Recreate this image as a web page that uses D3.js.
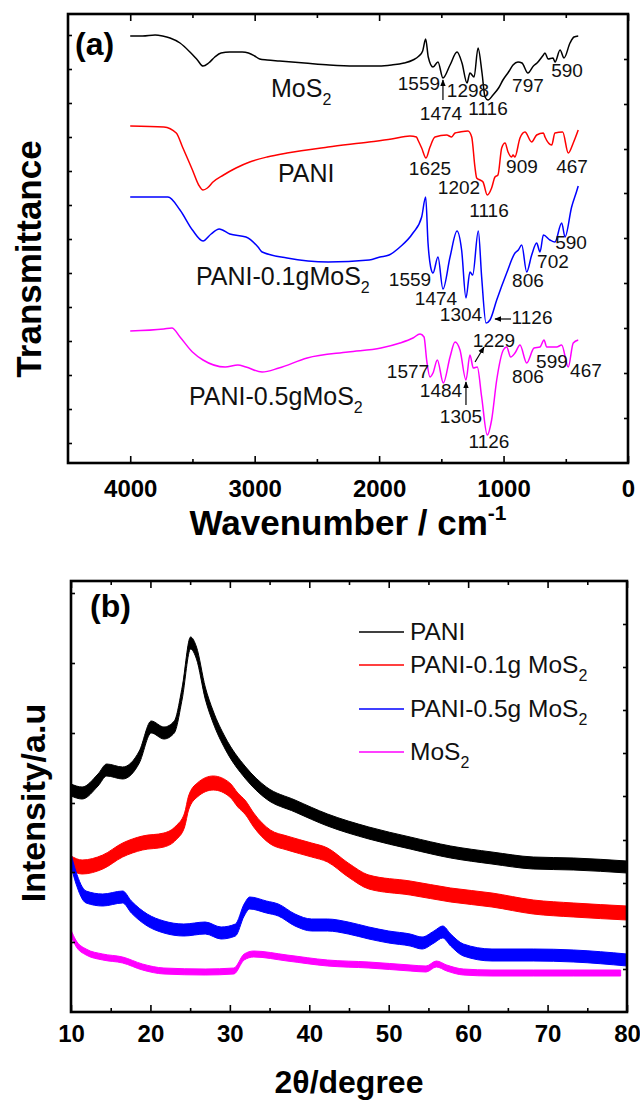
<!DOCTYPE html>
<html><head><meta charset="utf-8">
<script src="https://cdn.jsdelivr.net/npm/d3@7"></script>
<style>
body{margin:0;background:#fff}
svg{display:block}
text{font-family:"Liberation Sans",Arial,Helvetica,sans-serif}
</style>
</head><body>
<svg id="c" width="640" height="1100"></svg>
<script>
// ---------- Panel (a) FTIR data (wavenumber cm-1, transmittance a.u.) ----------
const mos2Wn = [4000,3900,3800,3740,3680,3600,3520,3460,3415,3370,3320,3270,3200,3100,3050,3000,2960,2900,2800,2600,2400,2200,2000,1900,1800,1728,1680,1650,1626,1605,1567,1527,1487,1430,1374,1334,1294,1270,1237,1205,1173,1149,1125,1085,1040,1005,960,924,884,852,804,760,731,680,667,642,603,586,546,514,466,434,400];
const mos2T  = [427,427,428,427,425,420,411,403,397,400,406,410,411,411,410,407,404,403,402,400,398,397,397,398,400,403,407,412,424,406,396,401,385,398,411,400,380,390,386,415,390,366,363,368,375,383,391,398,401,400,390,397,400,408,410,404,405,401,413,405,420,426,427];

const paniWn = [4000,3730,3630,3580,3500,3450,3415,3380,3335,3250,3150,3040,2900,2740,2410,2080,1900,1752,1700,1688,1658,1623,1591,1551,1457,1417,1390,1350,1286,1256,1230,1216,1189,1165,1131,1096,1069,1045,1015,988,964,935,924,909,868,828,774,734,680,667,613,587,525,480,440,400];
const paniT  = [337,336,330,316,293,278,273,275,281,288,295,301,306,310,316,321,324,327,326,323,315,305,316,326,328,326,330,331,332,326,296,285,283,281,268,275,286,288,315,320,311,306,308,306,325,331,321,328,330,326,318,330,331,310,320,333];

const p01Wn = [4000,3697,3600,3500,3415,3350,3285,3200,3070,2973,2940,2740,2410,2080,1993,1920,1832,1728,1658,1626,1607,1586,1567,1527,1487,1430,1374,1337,1302,1270,1248,1203,1176,1141,1109,1055,975,908,881,854,814,774,734,707,680,627,587,533,506,453,412,400];
const p01T  = [266,266,253,233,222,229,234,229,226,216,211,205,201,203,206,208,216,230,246,266,220,196,190,206,174,206,232,213,165,191,188,232,186,140,143,163,190,210,213,218,191,208,220,211,228,223,221,240,226,256,272,277];

const p05Wn = [4000,3730,3665,3600,3500,3415,3237,3135,3070,2940,2805,2578,2250,1985,1832,1728,1671,1639,1618,1591,1567,1532,1484,1430,1390,1350,1302,1270,1243,1211,1176,1131,1096,1055,1002,975,943,908,868,814,755,707,675,653,573,533,480,440,400];
const p05T  = [132,134,135,126,111,103,96,98,96,91,95,105,111,115,120,125,129,126,103,86,90,103,80,106,121,113,83,108,95,96,66,28,43,83,113,116,106,110,118,100,115,116,123,116,116,118,96,120,123];

const ftirColors = ["#000000","#ff0000","#0000ff","#ff00ff"];

// peak labels: [text, wavenumber, transmittance]
const peakLabels = [
  ["1559",1680,373],["1474",1503,343],["1298",1286,366],["1116",1125,348],["797",804,371],["590",490,386],
  ["1625",1591,288],["1202",1358,269],["1116",1117,246],["909",852,290],["467",450,290],
  ["1559",1752,177],["1474",1543,158],["1304",1342,142],["1126",771,139],["806",804,176],["702",603,195],["590",458,214],
  ["1229",1077,116],["1577",1768,85],["1484",1503,66],["1305",1342,40],["1126",1117,15],["806",804,80],["599",611,95],["467",338,86]
];
// arrows: [wn tail, T tail, wn head, T head]
const peakArrows = [[1487,363,1487,383],[940,144,1069,144],[1229,101,1157,116],[1302,58,1302,81]];
// curve names: [main, subscript, wn, T]
const curveNames = [["MoS","2",2869,366],["PANI","",2813,281],["PANI-0.1gMoS","2",3472,178],["PANI-0.5gMoS","2",3528,58]];

const ftirMajor = [4000,3000,2000,1000,0];
const ftirMinor = [3500,2500,1500,500];
const ftirLeftTicks = [20,54,88,122,156,190,224,258,292,326,360,394,428];
const ftirRightTicks = [45,90,135,180,225,270,314,359,404];

// ---------- Panel (b) XRD data (2theta, intensity a.u.) ----------
const xPani2t = [10.0,11.4,13.4,14.5,16.5,18.6,20.1,21.7,23.0,24.0,25.05,25.8,26.9,27.9,29.4,32.0,34.6,38.2,42.3,47.5,52.7,57.8,63.0,68.2,73.3,80.0];
const xPaniI  = [222,219,232,242,239,255,285,279,285,319,369,359,319,295,269,239,219,206,192,179,169,160,154,149,148,145];
const xP01_2t = [10.0,11.4,14,16.5,19,21.7,23.2,24.3,24.8,25.9,27.9,30,31,32,33,35.1,37.2,40.3,42.3,44.9,47.5,52.7,57.8,63,68.2,73.3,80];
const xP01I   = [149,145,150,162,169,172,179,192,209,222,229,222,212,204,192,175,169,162,157,142,130,124,117,112,105,102,99];
const xP05_2t = [10.0,10.6,11.9,14,16.5,17.6,19.6,21.7,24.2,26.9,28.9,30.7,31.8,32.5,34.6,36.1,38.2,40.3,42.3,44.9,47.5,50,52.7,54.2,55.7,56.8,57.8,59.4,63,68.2,73.3,80];
const xP05I   = [152,135,115,112,115,105,92,85,82,84,79,82,102,109,105,102,92,87,87,84,79,75,72,69,75,80,72,62,57,57,56,52];
const xMos2_2t = [10.0,10.6,11.9,14,16.5,19,21.7,26.9,30.5,31.8,33,37.2,42.3,47.5,52.7,54.7,56,57.3,59.4,63,68.2,73.3,79.2];
const xMos2I   = [79,69,60,55,52,45,41,40,41,55,58,54,49,47,44,43,48,44,40,39,39,39,39];
const xrdNoise = [6,7,6,3]; // half-width of the noise band, a.u.
const xrdNames = [["PANI",""],["PANI-0.1g MoS","2"],["PANI-0.5g MoS","2"],["MoS","2"]];
const xrdColors = ["#000000","#ff0000","#0000ff","#ff00ff"];
const xrdMajor = [10,20,30,40,50,60,70,80];
const xrdMinor = [15,25,35,45,55,65,75];
const xrdLeftTicks = [70,140,209,279,349,419];
const xrdRightTicks = [43,86,129,172,216,259,302,345,388];

// ---------- drawing ----------
const svg = d3.select("#c");
const FONT = '"Liberation Sans",Arial,sans-serif';
const A = {l:68, r:628, t:14, b:463};
const B = {l:71, r:627, t:581, b:1012};

const xA = d3.scaleLinear().domain([4500,0]).range([A.l,A.r]);
const yA = d3.scaleLinear().domain([0,449]).range([A.b,A.t]);
const xB = d3.scaleLinear().domain([10,80]).range([B.l,B.r]);
const yB = d3.scaleLinear().domain([0,431]).range([B.b,B.t]);

function styleAxis(g){
  g.select(".domain").remove();
  g.selectAll(".tick line").attr("stroke","#000").attr("stroke-width",1.6);
  g.selectAll(".tick text").attr("font-family",FONT).attr("font-weight","bold").attr("fill","#000");
}

function frameAxes(P, xs, ys, major, minor, leftT, rightT, pad){
  svg.append("g").attr("transform",`translate(0,${P.b})`)
    .call(d3.axisBottom(xs).tickValues(major).tickSize(-7).tickPadding(pad).tickFormat(d3.format("d")))
    .call(g=>{styleAxis(g); g.selectAll(".tick text").attr("font-size",24);});
  svg.append("g").attr("transform",`translate(0,${P.b})`)
    .call(d3.axisBottom(xs).tickValues(minor).tickSize(-4).tickFormat(""))
    .call(styleAxis);
  svg.append("g").attr("transform",`translate(0,${P.t})`)
    .call(d3.axisTop(xs).tickValues(major).tickSize(-7).tickFormat(""))
    .call(styleAxis);
  svg.append("g").attr("transform",`translate(0,${P.t})`)
    .call(d3.axisTop(xs).tickValues(minor).tickSize(-4).tickFormat(""))
    .call(styleAxis);
  svg.append("g").attr("transform",`translate(${P.l},0)`)
    .call(d3.axisLeft(ys).tickValues(leftT).tickSize(-4).tickFormat(""))
    .call(styleAxis);
  svg.append("g").attr("transform",`translate(${P.r},0)`)
    .call(d3.axisRight(ys).tickValues(rightT).tickSize(-4).tickFormat(""))
    .call(styleAxis);
  svg.append("rect").attr("x",P.l).attr("y",P.t).attr("width",P.r-P.l).attr("height",P.b-P.t)
    .attr("fill","none").attr("stroke","#000").attr("stroke-width",2.6);
}

// defs: arrow head
svg.append("defs").append("marker").attr("id","ah").attr("viewBox","0 0 10 10")
  .attr("refX",9).attr("refY",5).attr("markerWidth",7).attr("markerHeight",7)
  .attr("orient","auto").attr("markerUnits","userSpaceOnUse")
  .append("path").attr("d","M0,1 L10,5 L0,9 Z").attr("fill","#000");

// ----- panel (a) -----
const ftirSeries = [[mos2Wn,mos2T],[paniWn,paniT],[p01Wn,p01T],[p05Wn,p05T]];
const lineA = d3.line().x(d=>xA(d[0])).y(d=>yA(d[1])).curve(d3.curveMonotoneX);
ftirSeries.forEach((s,i)=>{
  const pts = d3.zip(s[0],s[1]);
  svg.append("path").attr("d",lineA(pts)).attr("fill","none")
    .attr("stroke",ftirColors[i]).attr("stroke-width",1.5).attr("stroke-linejoin","round");
});

svg.append("g").selectAll("text").data(peakLabels).join("text")
  .attr("x",d=>xA(d[1])).attr("y",d=>yA(d[2])).attr("text-anchor","middle")
  .attr("font-size",19).attr("fill","#111").text(d=>d[0]);

svg.append("g").selectAll("line").data(peakArrows).join("line")
  .attr("x1",d=>xA(d[0])).attr("y1",d=>yA(d[1])).attr("x2",d=>xA(d[2])).attr("y2",d=>yA(d[3]))
  .attr("stroke","#000").attr("stroke-width",1.2).attr("marker-end","url(#ah)");

curveNames.forEach(c=>{
  const t = svg.append("text").attr("x",xA(c[2])).attr("y",yA(c[3]))
    .attr("font-size",25).attr("fill","#111");
  t.append("tspan").text(c[0]);
  if(c[1]) t.append("tspan").attr("font-size",16).attr("dy",8).text(c[1]);
});

frameAxes(A, xA, yA, ftirMajor, ftirMinor, ftirLeftTicks, ftirRightTicks, 17);

svg.append("text").attr("x",75).attr("y",55).attr("font-size",32).attr("font-weight","bold").text("(a)");

const xtA = svg.append("text").attr("x",(A.l+A.r)/2).attr("y",535).attr("text-anchor","middle")
  .attr("font-size",35).attr("font-weight","bold");
xtA.append("tspan").text("Wavenumber / cm");
xtA.append("tspan").attr("font-size",21).attr("dy",-15).text("-1");

svg.append("text").attr("transform","translate(41,259) rotate(-90)").attr("text-anchor","middle")
  .attr("font-size",35).attr("font-weight","bold").text("Transmittance");

// ----- panel (b) -----
const xrdSeries = [[xPani2t,xPaniI],[xP01_2t,xP01I],[xP05_2t,xP05I],[xMos2_2t,xMos2I]];
xrdSeries.forEach((s,i)=>{
  const pts = d3.zip(s[0],s[1]);
  const hw = xrdNoise[i];
  const area = d3.area().x(d=>xB(d[0])).y0(d=>yB(d[1]-hw)).y1(d=>yB(d[1]+hw)).curve(d3.curveMonotoneX);
  svg.append("path").attr("d",area(pts)).attr("fill",xrdColors[i]).attr("stroke",xrdColors[i]).attr("stroke-width",1);
});

frameAxes(B, xB, yB, xrdMajor, xrdMinor, xrdLeftTicks, xrdRightTicks, 13);

svg.append("text").attr("x",90).attr("y",617).attr("font-size",32).attr("font-weight","bold").text("(b)");

const legOff = [0,33,77,120];
const legG = svg.append("g").attr("transform","translate(359,632)");
xrdNames.forEach((n,i)=>{
  legG.append("line").attr("x1",0).attr("x2",45).attr("y1",legOff[i]).attr("y2",legOff[i])
    .attr("stroke",xrdColors[i]).attr("stroke-width",1.5);
  const t = legG.append("text").attr("x",51).attr("y",legOff[i]+8).attr("font-size",24.5).attr("fill","#111");
  t.append("tspan").text(n[0]);
  if(n[1]) t.append("tspan").attr("font-size",16).attr("dy",8).text(n[1]);
});

svg.append("text").attr("x",(B.l+B.r)/2).attr("y",1093).attr("text-anchor","middle")
  .attr("font-size",32).attr("font-weight","bold").text("2θ/degree");

svg.append("text").attr("transform","translate(45,803) rotate(-90)").attr("text-anchor","middle")
  .attr("font-size",34).attr("font-weight","bold").text("Intensity/a.u");
</script>
</body></html>
